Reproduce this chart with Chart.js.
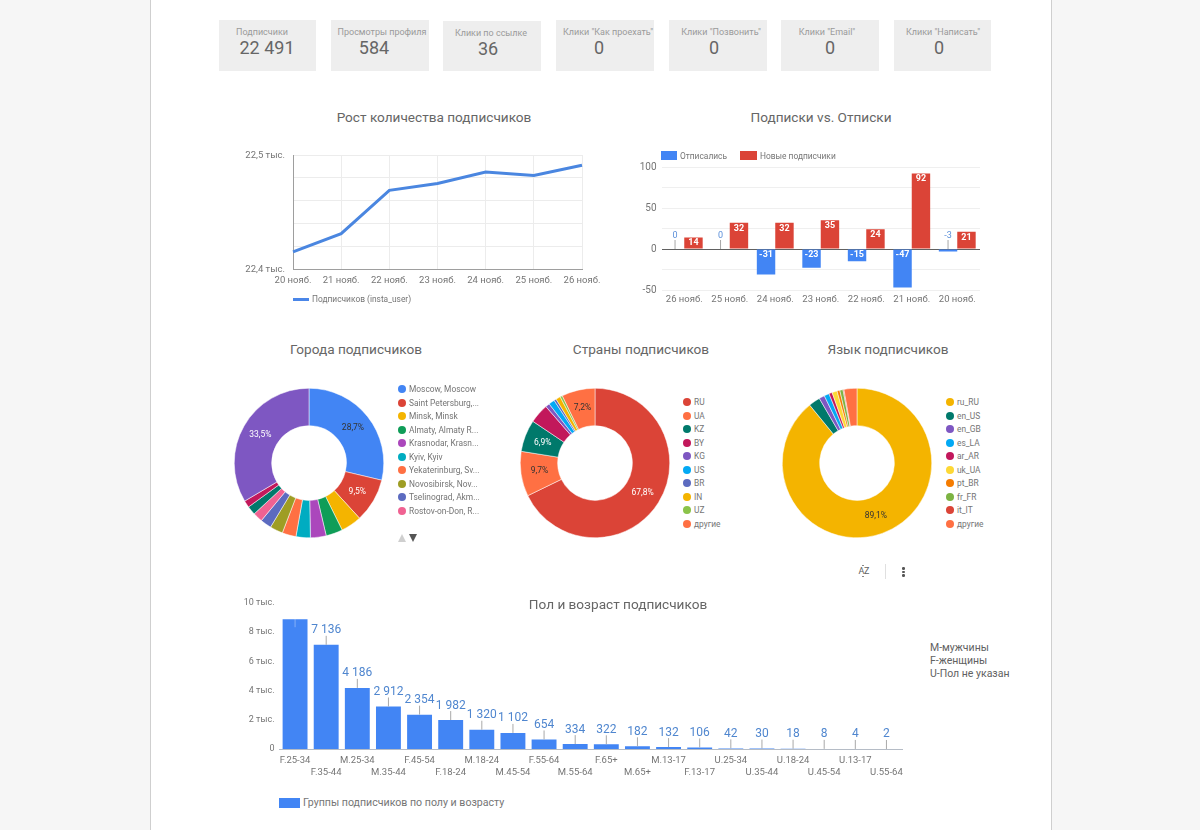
<!DOCTYPE html>
<html>
<head>
<meta charset="utf-8">
<script src="https://cdn.jsdelivr.net/npm/chart.js@4/dist/chart.umd.min.js"></script>
<style>
html, body { margin: 0; padding: 0; }
body { width: 1200px; height: 830px; overflow: hidden; background: #f6f6f6; font-family: Roboto, sans-serif; position: relative; }
#page { position: absolute; left: 150px; top: 0; width: 902px; height: 830px; background: #fff; border-left: 1px solid #cfcfcf; border-right: 1px solid #cfcfcf; box-sizing: border-box; }
.abs { position: absolute; white-space: nowrap; }
canvas { position: absolute; }
.card { position: absolute; background: #eeeeee; }
.title { position: absolute; font-size: 13.6px; line-height: 16px; color: #666; transform: translateX(-50%); white-space: nowrap; }
.kpi-label { position: absolute; font-size: 9px; line-height: 12px; color: #9a9a9a; transform: translateX(-50%); white-space: nowrap; }
.kpi-value { position: absolute; font-size: 18px; line-height: 20px; color: #666; transform: translateX(-50%); white-space: nowrap; }
.leg { position: absolute; font-size: 8.4px; line-height: 12px; color: #757575; white-space: nowrap; }
.dot { position: absolute; width: 8px; height: 8px; border-radius: 50%; }
</style>
</head>
<body>
<div id="page"></div>

<canvas id="growth" style="left:240px;top:145px;width:370px;height:150px"></canvas>
<canvas id="subs" style="left:630px;top:157px;width:360px;height:155px"></canvas>
<canvas id="cities" style="left:224px;top:378px;width:170px;height:170px"></canvas>
<canvas id="countries" style="left:510px;top:378px;width:170px;height:170px"></canvas>
<canvas id="langs" style="left:772px;top:378px;width:170px;height:170px"></canvas>
<canvas id="ages" style="left:230px;top:595px;width:690px;height:190px"></canvas>

<script>
const kpiLabels = ['Подписчики', 'Просмотры профиля', 'Клики по ссылке', 'Клики "Как проехать"', 'Клики "Позвонить"', 'Клики "Email"', 'Клики "Написать"'];
const kpiValues = ['22 491', '584', '36', '0', '0', '0', '0'];

const growthDays = ['20 нояб.', '21 нояб.', '22 нояб.', '23 нояб.', '24 нояб.', '25 нояб.', '26 нояб.'];
const growthValues = [22415, 22431, 22469, 22475, 22485, 22482, 22491];

const subsDays = ['26 нояб.', '25 нояб.', '24 нояб.', '23 нояб.', '22 нояб.', '21 нояб.', '20 нояб.'];
const unsubscribed = [0, 0, -31, -23, -15, -47, -3];
const newSubscribers = [14, 32, 32, 35, 24, 92, 21];

const cityNames = ['Moscow, Moscow', 'Saint Petersburg,...', 'Minsk, Minsk', 'Almaty, Almaty R...', 'Krasnodar, Krasn...', 'Kyiv, Kyiv', 'Yekaterinburg, Sv...', 'Novosibirsk, Nov...', 'Tselinograd, Akm...', 'Rostov-on-Don, R...', 'прочие 1', 'прочие 2', 'другие'];
const cityValues = [28.7, 9.5, 4.5, 3.6, 3.4, 3.1, 3.0, 2.8, 2.4, 2.1, 1.9, 1.5, 33.5];
const cityColors = ['#4285f4', '#db4437', '#f4b400', '#0f9d58', '#ab47bc', '#00acc1', '#ff7043', '#9e9d24', '#5c6bc0', '#f06292', '#00796b', '#c2185b', '#7e57c2'];

const countryNames = ['RU', 'UA', 'KZ', 'BY', 'KG', 'US', 'BR', 'IN', 'UZ', 'другие'];
const countryValues = [67.8, 9.7, 6.9, 4.2, 0.9, 1.3, 0.5, 1.0, 0.5, 7.2];
const countryColors = ['#db4437', '#ff7043', '#00796b', '#c2185b', '#7e57c2', '#03a9f4', '#5c6bc0', '#f4b400', '#8bc34a', '#ff7043'];

const langNames = ['ru_RU', 'en_US', 'en_GB', 'es_LA', 'ar_AR', 'uk_UA', 'pt_BR', 'fr_FR', 'it_IT', 'другие'];
const langValues = [89.1, 2.5, 1.2, 1.1, 0.7, 1.1, 0.6, 0.7, 0.2, 2.8];
const langColors = ['#f4b400', '#00796b', '#7e57c2', '#03a9f4', '#c2185b', '#fdd835', '#f57c00', '#7cb342', '#db4437', '#ff7043'];

const ageGroups = ['F.25-34', 'F.35-44', 'M.25-34', 'M.35-44', 'F.45-54', 'F.18-24', 'M.18-24', 'M.45-54', 'F.55-64', 'M.55-64', 'F.65+', 'M.65+', 'M.13-17', 'F.13-17', 'U.25-34', 'U.35-44', 'U.18-24', 'U.45-54', 'U.13-17', 'U.55-64'];
const ageValues = [8890, 7136, 4186, 2912, 2354, 1982, 1320, 1102, 654, 334, 322, 182, 132, 106, 42, 30, 18, 8, 4, 2];

const FONT = 'Roboto, sans-serif';
const GREY = '#757575';
Chart.defaults.font.family = FONT;
Chart.defaults.animation = false;
Chart.defaults.responsive = false;
Chart.defaults.plugins.legend.display = false;
Chart.defaults.plugins.tooltip.enabled = false;

function add(cls, left, top, text, extra) {
    var d = document.createElement('div');
    d.className = cls;
    d.style.left = left + 'px';
    d.style.top = top + 'px';
    if (text !== null) d.textContent = text;
    if (extra) d.style.cssText += extra;
    document.body.appendChild(d);
    return d;
}

// cards: box left, box width, top, label centre, value centre
const cardBoxes = [[219, 97, 20, 262, 267], [331, 98, 20, 382, 374], [443, 98, 21, 491, 488], [556, 98, 20, 608, 599], [669, 98, 20, 721, 714], [781, 98, 20, 827, 830], [894, 97, 20, 943, 939]];
cardBoxes.forEach(function (b, i) {
    add('card', b[0], b[2], null, 'width:' + b[1] + 'px;height:' + (71 - b[2]) + 'px');
    add('kpi-label', b[3], b[2] + 6, kpiLabels[i]);
    add('kpi-value', b[4], b[2] + 18, kpiValues[i]);
});

add('title', 434, 109, 'Рост количества подписчиков');
add('title', 821, 109, 'Подписки vs. Отписки');
add('title', 356, 341, 'Города подписчиков');
add('title', 641, 341, 'Страны подписчиков');
add('title', 888, 341, 'Язык подписчиков');
add('title', 618, 596, 'Пол и возраст подписчиков');

// html legends
add('abs', 293, 298, null, 'width:16px;height:3px;background:#4a86e8');
add('leg', 312, 293, 'Подписчиков (insta_user)');
add('abs', 661, 151, null, 'width:16px;height:9px;background:#4285f4');
add('leg', 680, 149.5, 'Отписались');
add('abs', 740, 151, null, 'width:17px;height:9px;background:#db4437');
add('leg', 760, 149.5, 'Новые подписчики');
add('abs', 279, 798, null, 'width:21px;height:10px;background:#4285f4');
add('abs', 303, 796, 'Группы подписчиков по полу и возрасту', 'font-size:10.6px;line-height:14px;color:#757575');

function dotLegend(names, colors, dotX, textX, startRow) {
    names.slice(0, 10).forEach(function (n, i) {
        var y = startRow + 13.5 * i;
        add('dot', dotX - 4, y - 4, null, 'background:' + colors[i]);
        add('leg', textX, y - 6, n);
    });
}
dotLegend(cityNames, cityColors, 402, 409, 389);
dotLegend(countryNames, countryColors, 687, 694, 402);
dotLegend(langNames, langColors, 950, 957, 402);

// pager under cities legend
add('abs', 398, 534, null, 'width:0;height:0;border-left:4.5px solid transparent;border-right:4.5px solid transparent;border-bottom:8px solid #cfcfcf');
add('abs', 409, 534, null, 'width:0;height:0;border-left:4.5px solid transparent;border-right:4.5px solid transparent;border-top:8px solid #555');

// sort / menu icons
add('abs', 858.5, 566, 'AZ', 'font-size:9px;line-height:10px;color:#616161;letter-spacing:-.3px');
add('abs', 862, 564.5, null, 'width:2px;height:1px;background:#888');
add('abs', 862, 575.5, null, 'width:2px;height:1px;background:#888');
add('abs', 885, 564, null, 'width:1px;height:15px;background:#e0e0e0');
[567, 570.5, 574].forEach(function (y) {
    add('abs', 902, y, null, 'width:2.5px;height:2.5px;border-radius:50%;background:#555');
});

['М-мужчины', 'F-женщины', 'U-Пол не указан'].forEach(function (t, i) {
    add('abs', 930, 641 + 13 * i, t, 'font-size:10.5px;line-height:14px;color:#616161');
});

// the y scale adds its tick padding above and below the plot, drop that so the plot box stays where it is set
function fixWidth(w) {
    return function (s) { s.width = w; s.paddingTop = 0; s.paddingBottom = 0; };
}
function fixHeight(h) { return function (s) { s.height = h; }; }

new Chart(document.getElementById('growth'), {
    type: 'line',
    data: {
        labels: growthDays,
        datasets: [{ data: growthValues, borderColor: '#4a86e0', borderWidth: 3, pointRadius: 0, tension: 0, borderCapStyle: 'butt', clip: false }]
    },
    options: {
        layout: { padding: { top: 10, right: 28, left: 0, bottom: 0 } },
        scales: {
            x: {
                afterFit: fixHeight(26),
                border: { color: '#9e9e9e' },
                grid: { color: '#ececec', drawTicks: false },
                ticks: { padding: 5.5, color: GREY, font: { size: 9.5 }, maxRotation: 0, autoSkip: false }
            },
            y: {
                min: 22400, max: 22500,
                afterFit: fixWidth(53),
                border: { color: '#9e9e9e' },
                grid: { color: '#ececec', drawTicks: false },
                ticks: {
                    stepSize: 20, padding: 8, labelOffset: 1, color: GREY, font: { size: 9.5 },
                    callback: function (v) {
                        if (v === 22500) return '22,5 тыс.';
                        if (v === 22400) return '22,4 тыс.';
                        return '';
                    }
                }
            }
        }
    }
});

const barLabels = {
    id: 'barLabels',
    afterDatasetsDraw: function (chart) {
        var ctx = chart.ctx;
        var zero = chart.scales.y.getPixelForValue(0);
        ctx.save();
        ctx.textAlign = 'center';
        ctx.textBaseline = 'middle';
        chart.data.datasets.forEach(function (ds, di) {
            chart.getDatasetMeta(di).data.forEach(function (bar, i) {
                var v = ds.data[i];
                if (Math.abs(v) < 5) {
                    ctx.strokeStyle = '#a8a8a8';
                    ctx.lineWidth = 1;
                    ctx.beginPath();
                    ctx.moveTo(bar.x, zero);
                    ctx.lineTo(bar.x, zero - 9);
                    ctx.stroke();
                    ctx.fillStyle = '#5b8fd9';
                    ctx.font = '9px ' + FONT;
                    ctx.fillText(v, bar.x, zero - 13);
                } else {
                    ctx.fillStyle = '#fff';
                    ctx.font = 'bold 9px ' + FONT;
                    ctx.fillText(v, bar.x, Math.min(bar.y, bar.base) + 5.5);
                }
            });
        });
        ctx.restore();
    }
};

new Chart(document.getElementById('subs'), {
    type: 'bar',
    data: {
        labels: subsDays,
        datasets: [
            { label: 'Отписались', data: unsubscribed, backgroundColor: '#4285f4', categoryPercentage: 0.81, barPercentage: 1 },
            { label: 'Новые подписчики', data: newSubscribers, backgroundColor: '#db4437', categoryPercentage: 0.81, barPercentage: 1 }
        ]
    },
    plugins: [barLabels],
    options: {
        layout: { padding: { top: 10, right: 10, left: 0, bottom: 0 } },
        scales: {
            x: {
                afterFit: fixHeight(22),
                border: { display: false },
                grid: { display: false, drawTicks: false },
                ticks: { padding: 4, color: GREY, font: { size: 9.5 }, maxRotation: 0, autoSkip: false }
            },
            y: {
                min: -50, max: 100,
                afterFit: fixWidth(31.5),
                border: { display: false },
                grid: {
                    drawTicks: false,
                    color: function (c) { return c.tick.value === 0 ? '#616161' : '#efefef'; }
                },
                ticks: {
                    stepSize: 25, padding: 5, color: GREY, font: { size: 10 },
                    callback: function (v) { return v % 50 === 0 ? v : ''; }
                }
            }
        }
    }
});

const pctLabels = {
    id: 'pctLabels',
    afterDatasetsDraw: function (chart, args, opts) {
        var ctx = chart.ctx;
        var ds = chart.data.datasets[0];
        ctx.save();
        ctx.textAlign = 'center';
        ctx.textBaseline = 'middle';
        ctx.font = '8.5px ' + FONT;
        chart.getDatasetMeta(0).data.forEach(function (arc, i) {
            if (ds.data[i] < 5) return;
            var p = arc.tooltipPosition();
            ctx.fillStyle = opts.white.indexOf(i) >= 0 ? '#fff' : '#333';
            ctx.fillText(String(ds.data[i]).replace('.', ',') + '%', p.x, p.y);
        });
        ctx.restore();
    }
};

function donut(id, names, values, colors, white) {
    new Chart(document.getElementById(id), {
        type: 'doughnut',
        data: { labels: names, datasets: [{ data: values, backgroundColor: colors, borderColor: '#fff', borderWidth: 0.5 }] },
        plugins: [pctLabels],
        options: {
            cutout: '50%',
            layout: { padding: 10 },
            plugins: { pctLabels: { white: white } }
        }
    });
}
donut('cities', cityNames, cityValues, cityColors, [1, 12]);
donut('countries', countryNames, countryValues, countryColors, [0, 2]);
donut('langs', langNames, langValues, langColors, []);

const stemLabels = {
    id: 'stemLabels',
    afterDatasetsDraw: function (chart) {
        var ctx = chart.ctx;
        ctx.save();
        ctx.textAlign = 'center';
        ctx.textBaseline = 'middle';
        ctx.font = '12px ' + FONT;
        chart.getDatasetMeta(0).data.forEach(function (bar, i) {
            var v = ageValues[i];
            ctx.lineWidth = 1;
            if (i === 0) {
                // label of the tallest bar does not fit, only the stem shows
                ctx.strokeStyle = 'rgba(255,255,255,.35)';
                ctx.beginPath();
                ctx.moveTo(bar.x, bar.y);
                ctx.lineTo(bar.x, bar.y + 8);
                ctx.stroke();
                return;
            }
            ctx.strokeStyle = '#a9a9a9';
            ctx.beginPath();
            ctx.moveTo(bar.x, bar.y);
            ctx.lineTo(bar.x, bar.y - 9);
            ctx.stroke();
            ctx.fillStyle = '#4f86cf';
            ctx.fillText(String(v).replace(/\B(?=(\d{3})+$)/g, ' '), bar.x, bar.y - 14.5);
        });
        ctx.restore();
    }
};

new Chart(document.getElementById('ages'), {
    type: 'bar',
    data: {
        labels: ageGroups,
        datasets: [{ data: ageValues, backgroundColor: '#4285f4', categoryPercentage: 0.8, barPercentage: 1 }]
    },
    plugins: [stemLabels],
    options: {
        layout: { padding: { top: 8, right: 18, left: 0, bottom: 0 } },
        scales: {
            x: {
                afterFit: fixHeight(36),
                border: { color: '#b5bcc6' },
                grid: { display: false, drawTicks: false },
                ticks: {
                    padding: 5, color: GREY, font: { size: 9.5, lineHeight: 1.3 }, maxRotation: 0, autoSkip: false,
                    callback: function (v, i) {
                        return i % 2 === 0 ? [ageGroups[i], ''] : ['', ageGroups[i]];
                    }
                }
            },
            y: {
                min: 0, max: 10000,
                afterFit: fixWidth(49.5),
                border: { display: false },
                grid: { display: false, drawTicks: false },
                ticks: {
                    stepSize: 2000, padding: 5, color: GREY, font: { size: 9 },
                    callback: function (v) { return v === 0 ? '0' : (v / 1000) + ' тыс.'; }
                }
            }
        }
    }
});
</script>
</body>
</html>
